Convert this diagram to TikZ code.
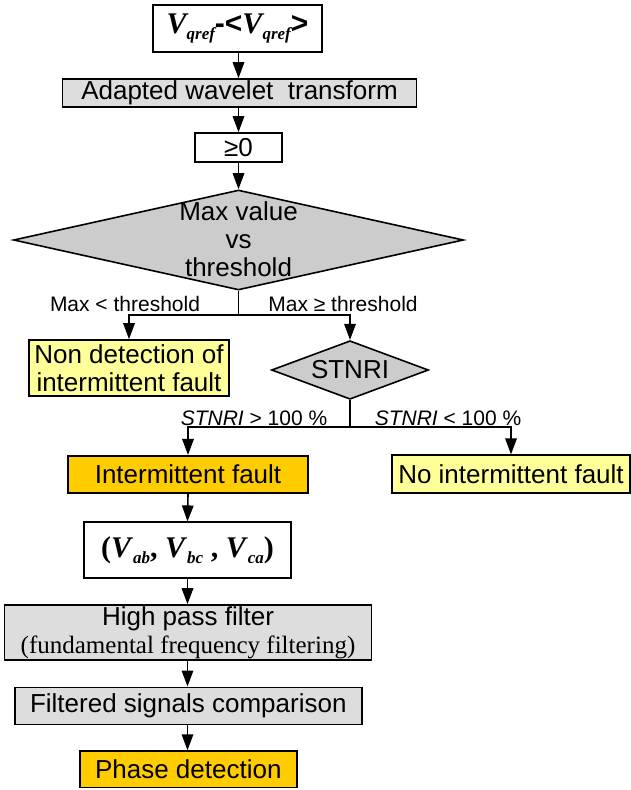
\documentclass[tikz,border=0pt]{standalone}
\usepackage{fontspec}
\setmainfont{Liberation Sans}
\newfontfamily\tnr{Liberation Serif}
\usetikzlibrary{shapes.geometric,arrows.meta}
\definecolor{boxgray}{HTML}{DDDDDD}
\definecolor{diagray}{HTML}{CCCCCC}
\definecolor{lightyel}{HTML}{FFFF99}
\definecolor{orangey}{HTML}{FFCC00}
\newcommand\mainfs{\fontsize{26}{28}\selectfont}
\newcommand\lblfs{\fontsize{21}{24}\selectfont}
\newcommand\subfs{\fontsize{17}{17}\selectfont}
\tikzset{
  box/.style={draw, line width=1.6pt, inner sep=0pt, align=center, font=\mainfs},
  dia/.style={diamond, draw, line width=1.6pt, fill=diagray, inner sep=0pt},
  lbl/.style={font=\lblfs, inner sep=0pt},
  conn/.style={line width=1.6pt},
  arr/.style={line width=1.6pt, -{Triangle[length=16pt,width=11.5pt]}}
}
\begin{document}
\begin{tikzpicture}[x=1pt,y=-1pt]
\useasboundingbox (0,0) rectangle (631,790);
% nodes
\node[box, minimum width=169pt, minimum height=47pt, fill=white] (vq) at (237.5,28.2)
  {{\tnr\bfseries\itshape\fontsize{30}{32}\selectfont V\raisebox{-6pt}{\subfs qref}}{\bfseries\fontsize{30}{32}\selectfont -<}{\tnr\bfseries\itshape\fontsize{30}{32}\selectfont V\raisebox{-6pt}{\subfs qref}}{\bfseries\fontsize{30}{32}\selectfont >}};
\node[box, minimum width=354pt, minimum height=28pt, fill=boxgray] (awt) at (239.5,93) {\raisebox{-1.5pt}{Adapted wavelet\ \ transform}};
\node[box, minimum width=86.5pt, minimum height=29pt, fill=white] (ge) at (238.5,147.5) {≥0};
\node[dia, minimum width=450pt, minimum height=100pt] (d1) at (238.5,240) {};
\node[font=\mainfs, align=center, inner sep=0pt] (d1t) at ([yshift=1pt]d1.center) {Max value\\vs\\threshold};
\node[lbl, anchor=base] (l1) at (125,311) {Max < threshold};
\node[lbl, anchor=base] (l2) at (343,311) {Max ≥ threshold};
\coordinate (j1) at (238.5,315);
\node[box, minimum width=200pt, minimum height=56pt, fill=lightyel] (nd) at (129,368) {Non detection of\\intermittent fault};
\node[dia, minimum width=157pt, minimum height=58.6pt] (d2) at (350,370) {};
\node[font=\mainfs, inner sep=0pt] (d2t) at (d2.center) {STNRI};
\coordinate (j2) at (350,427);
\node[lbl, anchor=base] (l3) at (254,425) {\textit{STNRI} > 100 \%};
\node[lbl, anchor=base] (l4) at (448,425) {\textit{STNRI} < 100 \%};
\node[box, minimum width=240pt, minimum height=37.5pt, fill=orangey] (if) at (188,474.5) {Intermittent fault};
\node[box, minimum width=238pt, minimum height=38pt, fill=lightyel] (nif) at (511,474.2) {No intermittent fault};
\node[box, minimum width=207.5pt, minimum height=55.5pt, fill=white] (vab) at (187.5,550)
  {{\tnr\bfseries\fontsize{30}{32}\selectfont (\textit{V}\raisebox{-6pt}{\subfs\itshape ab}, \textit{V}\raisebox{-6pt}{\subfs\itshape bc} , \textit{V}\raisebox{-6pt}{\subfs\itshape ca})}};
\node[box, minimum width=367pt, minimum height=55pt, fill=boxgray] (hpf) at (188,632.5)
  {High pass filter\\[0pt]{\tnr\fontsize{25}{28}\selectfont (fundamental frequency filtering)}};
\node[box, minimum width=347pt, minimum height=37pt, fill=boxgray] (fsc) at (188.3,705.8) {Filtered signals comparison};
\node[box, minimum width=217pt, minimum height=36.5pt, fill=orangey] (pd) at (188.3,769.3) {Phase detection};
% connectors
\draw[arr] (vq.south -| ge.north) -- (awt.north -| ge.north);
\draw[arr] (awt.south -| ge.north) -- (ge.north);
\draw[arr] (ge.south) -- (d1.north);
\draw[conn] (d1.south) -- (j1);
\draw[arr] (j1) -| (nd.north);
\draw[arr] (j1) -| (d2.north);
\draw[conn] (d2.south) -- (j2);
\draw[arr] (j2) -| (if.north);
\draw[arr] (j2) -| (nif.north);
\draw[arr] (if.south) -- (vab.south |- vab.north);
\draw[arr] (vab.south) -- (vab.south |- hpf.north);
\draw[arr] (vab.south |- hpf.south) -- (vab.south |- fsc.north);
\draw[arr] (vab.south |- fsc.south) -- (vab.south |- pd.north);
\end{tikzpicture}
\end{document}
